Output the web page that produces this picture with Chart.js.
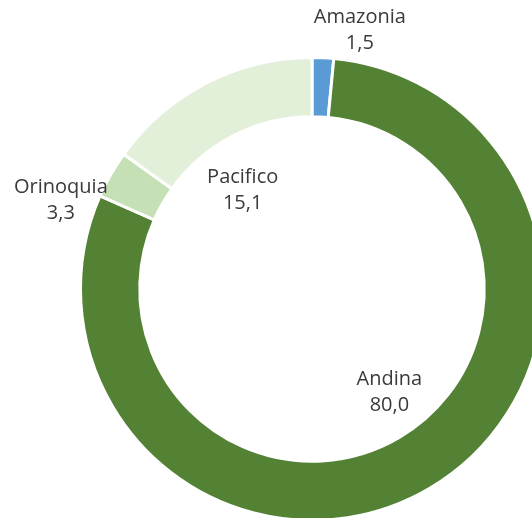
<!DOCTYPE html>
<html>
<head>
<meta charset="utf-8">
<script src="https://cdn.jsdelivr.net/npm/chart.js@4.4.0/dist/chart.umd.min.js"></script>
<style>
  html, body { margin: 0; padding: 0; background: #fff; overflow: hidden; }
  #wrap { position: absolute; left: 0; top: 0; width: 600px; height: 600px; }
</style>
</head>
<body>
<div id="wrap"><canvas id="chart" width="600" height="600"></canvas></div>
<script>
// regions and their share
const regions = ['Amazonia', 'Andina', 'Orinoquia', 'Pacifico'];
const shares = [1.5, 80.0, 3.3, 15.1];
const sliceColors = ['#5B9BD5', '#548235', '#C5E0B4', '#E2F0D9'];

// where each label sits: distance as a fraction of outer radius, and angle shift (deg) from slice middle
const labelPlacement = [
    { r: 1.135, shift: 7.8 },
    { r: 0.556, shift: -6.5 },
    { r: 1.15, shift: -10.25 },
    { r: 0.522, shift: -7.8 }
];

const sliceLabels = {
    id: 'sliceLabels',
    afterDatasetsDraw(chart) {
        const ctx = chart.ctx;
        const meta = chart.getDatasetMeta(0);
        ctx.save();
        ctx.font = '20px "Open Sans"';
        ctx.fillStyle = '#3a3a3a';
        ctx.textAlign = 'center';
        ctx.textBaseline = 'middle';
        meta.data.forEach((arc, i) => {
            const p = labelPlacement[i];
            const mid = (arc.startAngle + arc.endAngle) / 2 + p.shift * Math.PI / 180;
            const dist = arc.outerRadius * p.r;
            const x = arc.x + Math.cos(mid) * dist;
            const y = arc.y + Math.sin(mid) * dist;
            ctx.fillText(regions[i], x, y - 13);
            ctx.fillText(shares[i].toFixed(1).replace('.', ','), x, y + 13);
        });
        ctx.restore();
    }
};

new Chart(document.getElementById('chart'), {
    type: 'doughnut',
    data: {
        labels: regions,
        datasets: [{
            data: shares,
            backgroundColor: sliceColors,
            borderColor: '#ffffff',
            borderWidth: 3
        }]
    },
    options: {
        responsive: false,
        animation: false,
        cutout: '74.4%',
        layout: { padding: { left: 79, top: 56, right: 55, bottom: 78 } },
        plugins: {
            legend: { display: false },
            tooltip: { enabled: false }
        }
    },
    plugins: [sliceLabels]
});
</script>
</body>
</html>
